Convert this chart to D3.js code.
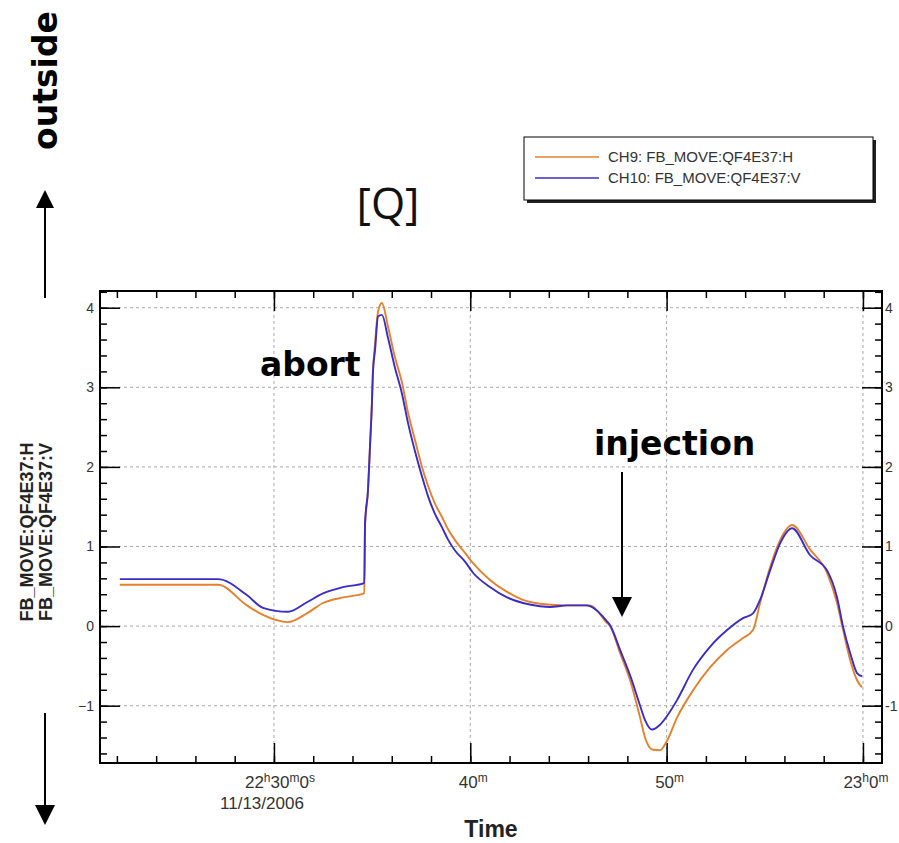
<!DOCTYPE html>
<html>
<head>
<meta charset="utf-8">
<script src="https://cdn.jsdelivr.net/npm/d3@7/dist/d3.min.js"></script>
<style>
  body { margin: 0; background: #fff; }
  svg { display: block; }
  .tick-lbl { font-family: "Liberation Sans", Arial, sans-serif; font-size: 14px; fill: #333; }
  .note { font-family: "DejaVu Sans", sans-serif; font-weight: bold; font-size: 33px; fill: #000; }
</style>
</head>
<body>
<svg width="899" height="843"></svg>
<script>
// minutes after 22:00 on 11/13/2006
var times = [22.15, 27.15, 28.62, 29.44, 30.71, 31.68, 32.50, 33.51, 34.60, 34.64, 34.79, 34.89,
             34.99, 35.04, 35.15, 35.30, 35.50, 35.81, 36.16, 36.52, 36.83, 37.18, 37.54, 37.85,
             38.20, 38.56, 38.86, 39.22, 39.73, 40.14, 41.00, 41.87, 42.68, 43.55, 44.06, 44.93,
             45.94, 46.10, 46.96, 47.12, 47.63, 48.14, 48.65, 48.90, 49.26, 49.66, 50.02, 50.53,
             51.34, 52.21, 53.08, 53.89, 54.40, 54.76, 55.27, 55.78, 56.39, 57.31, 58.17, 58.68,
             58.99, 59.35, 59.70, 59.95]

// CH9: FB_MOVE:QF4E37:H
var chH = [0.52, 0.52, 0.26, 0.14, 0.05, 0.16, 0.29, 0.36, 0.41, 1.25, 1.70, 2.25,
           2.80, 3.18, 3.55, 3.95, 4.06, 3.76, 3.38, 3.06, 2.68, 2.34, 2.00, 1.76,
           1.54, 1.37, 1.22, 1.08, 0.92, 0.79, 0.58, 0.43, 0.33, 0.28, 0.27, 0.26,
           0.26, 0.26, 0.04, 0.00, -0.34, -0.68, -1.15, -1.40, -1.55, -1.56, -1.44, -1.15,
           -0.81, -0.52, -0.30, -0.15, -0.05, 0.29, 0.74, 1.08, 1.27, 0.96, 0.67, 0.29,
           -0.05, -0.43, -0.68, -0.77]

// CH10: FB_MOVE:QF4E37:V
var chV = [0.59, 0.59, 0.39, 0.23, 0.18, 0.30, 0.41, 0.49, 0.54, 1.30, 1.71, 2.25,
           2.80, 3.18, 3.47, 3.89, 3.91, 3.62, 3.25, 2.92, 2.55, 2.20, 1.88, 1.63,
           1.41, 1.24, 1.09, 0.95, 0.81, 0.67, 0.49, 0.36, 0.29, 0.25, 0.24, 0.26,
           0.26, 0.25, 0.06, 0.01, -0.30, -0.62, -1.00, -1.18, -1.30, -1.24, -1.13, -0.93,
           -0.55, -0.26, -0.05, 0.10, 0.16, 0.33, 0.70, 1.04, 1.23, 0.89, 0.70, 0.36,
           -0.01, -0.34, -0.59, -0.63]

var yTicks = [-1, 0, 1, 2, 3, 4]
var xMajor = [30, 40, 50, 60]
var xMajorLabels = [["22", "h", "30", "m", "0", "s"], ["40", "m"], ["50", "m"], ["23", "h", "0", "m"]]
var seriesNames = ["CH9: FB_MOVE:QF4E37:H", "CH10: FB_MOVE:QF4E37:V"]
var seriesColors = ["#e5802f", "#3a2cc4"]

var base = new Date(2006, 10, 13, 22, 0, 0)
var toDate = function(m) { return new Date(base.getTime() + m * 60000) }

var plot = {left: 100, right: 882, top: 291, bottom: 763}

var svg = d3.select("svg")

var xScale = d3.scaleTime()
    .domain([toDate(21.14), toDate(60.97)])
    .range([plot.left, plot.right])

var yScale = d3.scaleLinear()
    .domain([-1.72, 4.21])
    .range([plot.bottom, plot.top])

// grid
var grid = svg.append("g").attr("stroke", "#aaa").attr("stroke-dasharray", "3,3")
grid.selectAll("line.h").data(yTicks).enter().append("line")
    .attr("x1", plot.left).attr("x2", plot.right)
    .attr("y1", function(d) { return yScale(d) }).attr("y2", function(d) { return yScale(d) })
grid.selectAll("line.v").data(xMajor).enter().append("line")
    .attr("y1", plot.top).attr("y2", plot.bottom)
    .attr("x1", function(d) { return xScale(toDate(d)) }).attr("x2", function(d) { return xScale(toDate(d)) })

// ticks pointing inward on all four sides
var minorX = d3.timeMinute.every(2).range(toDate(22), toDate(61))
var majorX = xMajor.map(toDate)
var minorY = d3.range(-16, 43, 2).map(function(d) { return d / 10 })

var addAxis = function(axis, tx, ty) {
    var g = svg.append("g").attr("transform", "translate(" + tx + "," + ty + ")").call(axis)
    g.select(".domain").remove()
    g.selectAll("text").remove()
    g.selectAll("line").attr("stroke", "#000").attr("stroke-width", 1.5)
}
addAxis(d3.axisTop(xScale).tickValues(minorX).tickSize(7), 0, plot.bottom)
addAxis(d3.axisTop(xScale).tickValues(majorX).tickSize(20), 0, plot.bottom)
addAxis(d3.axisBottom(xScale).tickValues(minorX).tickSize(7), 0, plot.top)
addAxis(d3.axisBottom(xScale).tickValues(majorX).tickSize(20), 0, plot.top)
addAxis(d3.axisRight(yScale).tickValues(minorY).tickSize(7), plot.left, 0)
addAxis(d3.axisRight(yScale).tickValues(yTicks).tickSize(20), plot.left, 0)
addAxis(d3.axisLeft(yScale).tickValues(minorY).tickSize(7), plot.right, 0)
addAxis(d3.axisLeft(yScale).tickValues(yTicks).tickSize(20), plot.right, 0)

// data lines
var line = d3.line()
    .x(function(d) { return xScale(toDate(d.t)) })
    .y(function(d) { return yScale(d.v) })
    .curve(d3.curveMonotoneX)

;[chH, chV].forEach(function(vals, i) {
    var pts = times.map(function(t, j) { return {t: t, v: vals[j]} })
    svg.append("path")
        .datum(pts)
        .attr("d", line)
        .attr("fill", "none")
        .attr("stroke", seriesColors[i])
        .attr("stroke-width", 1.9)
})

// frame
svg.append("rect")
    .attr("x", plot.left).attr("y", plot.top)
    .attr("width", plot.right - plot.left).attr("height", plot.bottom - plot.top)
    .attr("fill", "none").attr("stroke", "#000").attr("stroke-width", 2)

// y tick labels
svg.selectAll("text.yl").data(yTicks).enter().append("text")
    .attr("class", "tick-lbl").attr("text-anchor", "end")
    .attr("x", plot.left - 6).attr("y", function(d) { return yScale(d) }).attr("dy", "0.35em")
    .text(function(d) { return d < 0 ? "\u2212" + Math.abs(d) : String(d) })
svg.selectAll("text.yr").data(yTicks).enter().append("text")
    .attr("class", "tick-lbl").attr("text-anchor", "start")
    .attr("x", plot.right + 3).attr("y", function(d) { return yScale(d) }).attr("dy", "0.35em")
    .text(function(d) { return String(d) })

// x tick labels with superscript units
xMajor.forEach(function(m, i) {
    var t = svg.append("text").attr("class", "tick-lbl")
        .style("font-size", "17px")
        .attr("text-anchor", "middle")
        .attr("x", xScale(toDate(m)) + (i === 0 ? 6 : 3)).attr("y", 788)
    xMajorLabels[i].forEach(function(part, k) {
        var s = t.append("tspan").text(part)
        if (k % 2 === 1) s.attr("font-size", "12px").attr("baseline-shift", "50%")
    })
})
svg.append("text").attr("class", "tick-lbl").style("font-size", "17px").attr("text-anchor", "middle")
    .attr("x", xScale(toDate(30)) - 12).attr("y", 809).text("11/13/2006")

svg.append("text")
    .attr("x", 491).attr("y", 837).attr("text-anchor", "middle")
    .style("font-family", "Liberation Sans, Arial, sans-serif")
    .style("font-weight", "bold").style("font-size", "23px").attr("fill", "#222")
    .text("Time")

// y axis title (two lines)
seriesNames.forEach(function(name, i) {
    svg.append("g")
        .attr("transform", "translate(" + (33 + i * 19) + ",532)")
        .append("text")
        .attr("transform", "rotate(-90)")
        .attr("text-anchor", "middle")
        .style("font-family", "Liberation Sans, Arial, sans-serif")
        .style("font-weight", "bold").style("font-size", "18px").attr("fill", "#222")
        .text(name.split(" ")[1])
})

// legend
var legend = svg.append("g").attr("transform", "translate(524,137)")
legend.append("rect").attr("x", 3).attr("y", 3).attr("width", 349).attr("height", 63).attr("fill", "#222")
legend.append("rect").attr("width", 349).attr("height", 63)
    .attr("fill", "#fff").attr("stroke", "#000").attr("stroke-width", 1)
var entries = legend.selectAll("g.entry").data(seriesNames).enter().append("g")
    .attr("transform", function(d, i) { return "translate(0," + (20 + i * 21) + ")" })
entries.append("line").attr("x1", 11).attr("x2", 75).attr("y1", 0).attr("y2", 0)
    .attr("stroke", function(d, i) { return seriesColors[i] }).attr("stroke-width", 1.5)
entries.append("text").attr("x", 84).attr("dy", "0.35em")
    .attr("class", "tick-lbl").style("font-size", "15px").attr("fill", "#333")
    .text(function(d) { return d })

// title
svg.append("text").attr("x", 388).attr("y", 219).attr("text-anchor", "middle")
    .style("font-family", "Open Sans, sans-serif").style("font-size", "44px").attr("fill", "#111")
    .text("[Q]")

// annotations
svg.append("text").attr("class", "note").attr("x", 260).attr("y", 376).text("abort")
svg.append("text").attr("class", "note").attr("x", 594).attr("y", 455).text("injection")
svg.append("g").attr("transform", "translate(57,150)")
    .append("text").attr("class", "note").attr("transform", "rotate(-90)").text("outside")

// arrows
var arrow = function(x, y1, y2, head) {
    var dir = y2 > y1 ? 1 : -1
    svg.append("line").attr("x1", x).attr("x2", x).attr("y1", y1).attr("y2", y2 - dir * head)
        .attr("stroke", "#000").attr("stroke-width", 2)
    svg.append("path")
        .attr("d", "M" + (x - head / 2) + "," + (y2 - dir * head) + "L" + (x + head / 2) + "," + (y2 - dir * head) + "L" + x + "," + y2 + "Z")
        .attr("fill", "#000")
}
arrow(45, 298, 190, 18)
arrow(45, 713, 825, 20)
arrow(622, 472, 617, 20)
</script>
</body>
</html>
